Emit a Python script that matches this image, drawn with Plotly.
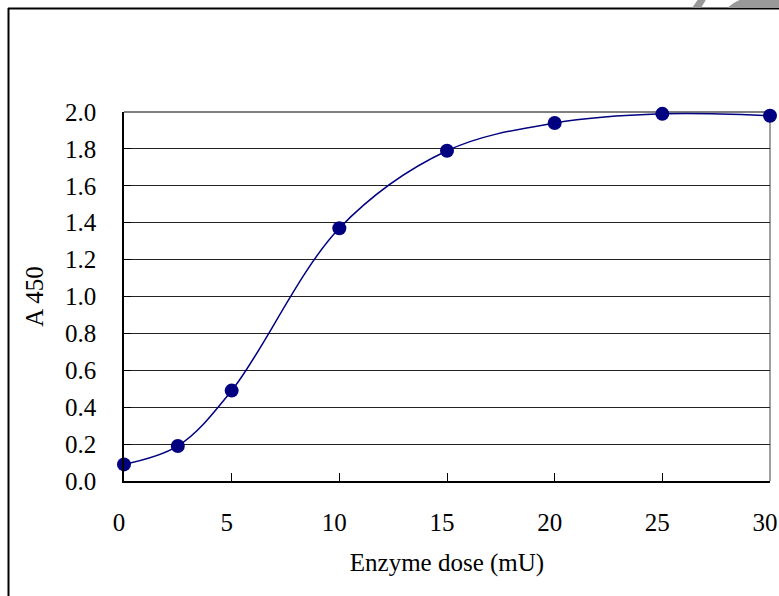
import plotly.graph_objects as go

# Data
enzyme_dose = [0, 2.5, 5, 10, 15, 20, 25, 30]
a450 = [0.09, 0.19, 0.49, 1.37, 1.79, 1.94, 1.99, 1.98]
x_ticks = [0, 5, 10, 15, 20, 25, 30]
y_ticks = [0.0, 0.2, 0.4, 0.6, 0.8, 1.0, 1.2, 1.4, 1.6, 1.8, 2.0]

W, H = 779, 596
L, R, T, B = 124, 770, 112, 481

def px(x):
    return (x - L) / (R - L)

def py(y):
    return (B - y) / (B - T)

FONT = "Liberation Serif"
NAVY = "#000080"

fig = go.Figure()
fig.add_trace(go.Scatter(
    x=enzyme_dose, y=a450, mode="lines+markers",
    line=dict(color=NAVY, width=1.5, shape="spline", smoothing=1.0),
    marker=dict(color=NAVY, size=14, symbol="circle"),
    cliponaxis=False, showlegend=False,
))

fig.update_layout(
    width=W, height=H,
    margin=dict(l=L, r=W - R, t=T, b=H - B, pad=0, autoexpand=False),
    paper_bgcolor="white", plot_bgcolor="white",
    font=dict(family=FONT, size=25, color="black"),
    xaxis=dict(
        range=[0, 30], tickvals=x_ticks, ticktext=[str(v) for v in x_ticks],
        ticks="inside", ticklen=8, tickcolor="black", tickwidth=1,
        showline=True, linecolor="black", linewidth=1.5,
        showgrid=False, zeroline=False, mirror=False,
        ticklabelstandoff=18, ticklabelshift=-5, automargin=False,
        title=dict(text="Enzyme dose (mU)", font=dict(size=25), standoff=19),
    ),
    yaxis=dict(
        range=[0, 2.0], tickvals=y_ticks, ticktext=[f"{v:.1f}" for v in y_ticks],
        ticks="inside", ticklen=7, tickcolor="black", tickwidth=1,
        showline=True, linecolor="black", linewidth=1.5,
        showgrid=True, gridcolor="#222222", gridwidth=1,
        zeroline=False, automargin=False,
        ticklabelstandoff=21,
        title=dict(text="A 450", font=dict(size=25), standoff=14),
    ),
    shapes=[
        # right & top plot border (grey)
        dict(type="line", xref="paper", yref="paper", x0=1, x1=1, y0=0, y1=1,
             line=dict(color="#808080", width=1.5), layer="below"),
        dict(type="line", xref="paper", yref="paper", x0=0, x1=1, y0=1, y1=1,
             line=dict(color="#808080", width=2), layer="below"),
        # outer frame
        dict(type="line", xref="paper", yref="paper", x0=px(8), x1=px(800), y0=py(8.5), y1=py(8.5),
             line=dict(color="black", width=2)),
        dict(type="line", xref="paper", yref="paper", x0=px(8.5), x1=px(8.5), y0=py(8), y1=py(620),
             line=dict(color="black", width=2)),
        # grey watermark fragments
        dict(type="path", xref="paper", yref="paper",
             path=f"M {px(692)} {py(8)} L {px(699)} {py(-2)} L {px(707)} {py(-2)} L {px(701)} {py(8)} Z",
             fillcolor="#999999", line=dict(width=0), layer="above"),
        dict(type="path", xref="paper", yref="paper",
             path=f"M {px(727)} {py(8)} Q {px(734)} {py(1)} {px(746)} {py(-2)} L {px(790)} {py(-2)} L {px(790)} {py(8)} Z",
             fillcolor="#999999", line=dict(width=0), layer="above"),
    ],
)

fig.write_html(
    "out.html",
    config={"displayModeBar": False},
    post_script="document.body.style.margin='0';document.body.style.overflow='hidden';",
)
